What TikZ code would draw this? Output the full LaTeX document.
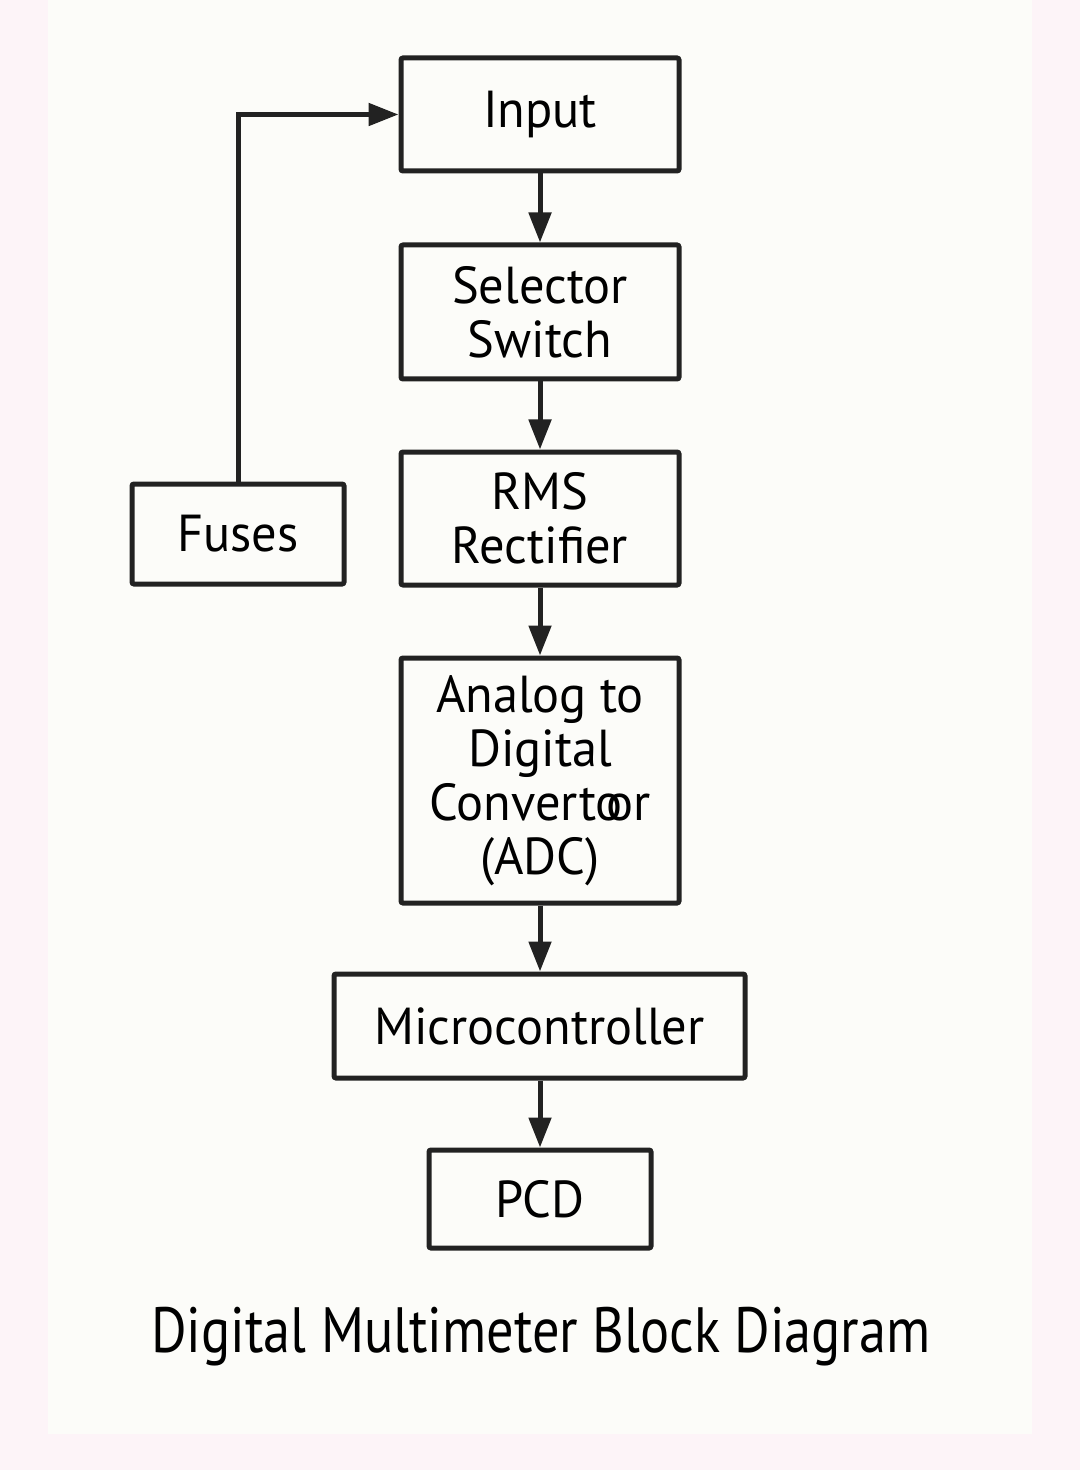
\documentclass[tikz,border=0pt]{standalone}
\usepackage{fontspec}
\setmainfont{PT Sans}
\newfontfamily\titlefont[FakeStretch=0.85]{PT Sans}
\newfontfamily\boxfont[FakeStretch=0.97]{PT Sans}
\usetikzlibrary{arrows.meta}
\definecolor{pinkbg}{HTML}{FDF4F8}
\definecolor{paper}{HTML}{FCFCF9}
\definecolor{ink}{HTML}{222222}
\begin{document}
\begin{tikzpicture}[x=0.5pt,y=-0.5pt,
  blk/.style={draw=ink, line width=2.5pt, rounded corners=1pt, fill=paper,
    align=center, inner sep=0pt, font=\boxfont\fontsize{26}{27}\selectfont, text=black},
  conn/.style={draw=ink, line width=2.5pt, -{Triangle[width=11pt,length=15pt]}}]
\fill[pinkbg] (0,0) rectangle (1080,1470);
\fill[paper] (48,0) rectangle (1032,1434);
\useasboundingbox (0,0) rectangle (1080,1470);
\node[blk, minimum width=139pt, minimum height=56.5pt] (input) at (540,114.5) {Input};
\node[blk, minimum width=139pt, minimum height=67pt] (sel) at (540,312) {Selector\\Switch};
\node[blk, minimum width=139pt, minimum height=66.5pt] (rms) at (540,518.5) {RMS\\Rectifier};
\node[blk, minimum width=139pt, minimum height=122.5pt] (adc) at (540,780.5) {Analog to\\Digital\\Converto\kern-0.32em or\\(ADC)};
\node[blk, minimum width=205.5pt, minimum height=52pt] (mc) at (539.5,1026) {Microcontroller};
\node[blk, minimum width=111pt, minimum height=49pt] (pcd) at (540,1199) {PCD};
\node[blk, minimum width=106pt, minimum height=50pt] (fuses) at (238,534) {Fuses};
\node[font=\titlefont\fontsize{32}{34}\selectfont, text=black] (title) at (541,1337) {Digital Multimeter Block Diagram};
\draw[conn] (input) -- (sel);
\draw[conn] (sel) -- (rms);
\draw[conn] (rms) -- (adc);
\draw[conn] (adc.south) -- (mc.north -| adc.south);
\draw[conn] (mc.south -| pcd.north) -- (pcd.north);
\draw[conn] (fuses.north) |- (input.west);
\end{tikzpicture}
\end{document}
